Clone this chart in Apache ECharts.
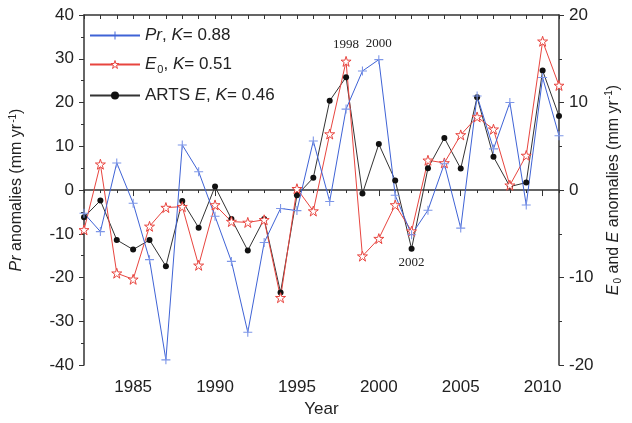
<!DOCTYPE html>
<html>
<head>
<meta charset="utf-8">
<script src="https://cdn.jsdelivr.net/npm/echarts@6/dist/echarts.min.js"></script>
<style>
  html, body { margin: 0; padding: 0; background: #fff; }
  #chart { width: 632px; height: 423px; }
</style>
</head>
<body>
<div id="chart"></div>
<script>
// years on the x axis
const years = [1982, 1983, 1984, 1985, 1986, 1987, 1988, 1989, 1990, 1991,
  1992, 1993, 1994, 1995, 1996, 1997, 1998, 1999, 2000, 2001,
  2002, 2003, 2004, 2005, 2006, 2007, 2008, 2009, 2010, 2011];
// Pr anomalies, left axis (mm/yr)
const prVals = [-5.3, -9.5, 6.2, -3, -15.9, -38.8, 10.3, 4.2, -6, -16.3,
  -32.5, -12, -4.2, -4.7, 11.2, -2.6, 18.5, 27.2, 29.8, -1.2,
  -10.2, -4.6, 6, -8.7, 21.5, 9.4, 20, -3.4, 25.7, 12.4];
// E0 anomalies, right axis
const e0Vals = [-4.55, 2.95, -9.5, -10.2, -4.15, -2, -1.9, -8.6, -1.7, -3.6,
  -3.7, -3.4, -12.3, 0.15, -2.4, 6.4, 14.7, -7.55, -5.55, -1.7,
  -4.7, 3.4, 3.1, 6.3, 8.35, 6.95, 0.55, 3.95, 17, 11.95];
// ARTS E anomalies, right axis
const artsVals = [-3.1, -1.2, -5.7, -6.8, -5.7, -8.7, -1.25, -4.3, 0.4, -3.3,
  -6.9, -3.3, -11.7, -0.6, 1.4, 10.2, 12.9, -0.4, 5.25, 1.1,
  -6.7, 2.5, 5.95, 2.45, 10.6, 3.8, 0.4, 0.85, 13.65, 8.45];
const kValues = [0.88, 0.51, 0.46];
const labelYears = [1985, 1990, 1995, 2000, 2005, 2010];
const leftTicks = [-40, -30, -20, -10, 0, 10, 20, 30, 40];
const rightTicks = [-20, -10, 0, 10, 20];
// year labels written on the plot
const noteE0 = [1998];
const notePr = [2000];
const noteArts = [2002];

const FONT = 'Liberation Sans';
const plusPath = 'path://M0,4.4H10V5.6H0Z M4.4,0H5.6V10H4.4Z';
const starPath = 'path://M50,2 L61,36 L97,36 L68,57 L79,92 L50,70 L21,92 L32,57 L3,36 L39,36 Z';
const RED = '#e8453f', BLUE = '#3f63d6', DARK = '#333';

function pts(vals, notes, pos) {
  return years.map((y, i) => {
    if (notes.indexOf(y) >= 0) {
      return {
        value: [y, vals[i]],
        label: {
          show: true, position: pos, distance: pos === 'top' ? 5 : 4,
          formatter: String(y), fontFamily: 'Liberation Serif', fontSize: 13, color: '#222'
        }
      };
    }
    return [y, vals[i]];
  });
}

const rich = {
  t: { fontFamily: FONT, fontSize: 17, color: '#222' },
  i: { fontFamily: FONT, fontSize: 17, fontStyle: 'italic', color: '#222' },
  s: { fontFamily: FONT, fontSize: 11, color: '#222', padding: [10, 0, 0, 1] }
};
const axisRich = {
  t: { fontFamily: FONT, fontSize: 16, color: '#222' },
  i: { fontFamily: FONT, fontSize: 16, fontStyle: 'italic', color: '#222' },
  s: { fontFamily: FONT, fontSize: 10, color: '#222', padding: [9, 0, 0, 1] },
  p: { fontFamily: FONT, fontSize: 10, color: '#222', padding: [0, 0, 8, 1] }
};

const chart = echarts.init(document.getElementById('chart'));
chart.setOption({
  animation: false,
  backgroundColor: '#fff',
  grid: { left: 80, right: 73, top: 15, bottom: 55 },
  legend: {
    orient: 'vertical',
    left: 84,
    top: 22,
    itemWidth: 50,
    itemHeight: 10,
    itemGap: 12,
    data: [
      { name: 'Pr', itemStyle: { color: BLUE } },
      { name: 'E0', itemStyle: { color: '#fff', borderColor: RED, borderWidth: 1 } },
      { name: 'ARTS E', itemStyle: { color: '#111' } }
    ],
    formatter: function (name) {
      if (name === 'Pr') return '{i|Pr}{t|, }{i|K}{t|= ' + kValues[0] + '}';
      if (name === 'E0') return '{i|E}{s|0}{t|, }{i|K}{t|= ' + kValues[1] + '}';
      return '{t|ARTS }{i|E}{t|, }{i|K}{t|= ' + kValues[2] + '}';
    },
    textStyle: { rich: rich, fontFamily: FONT, fontSize: 17 }
  },
  xAxis: [
    {
      type: 'value', min: 1982, max: 2011, position: 'bottom',
      name: 'Year', nameLocation: 'middle', nameGap: 33,
      nameTextStyle: { fontFamily: FONT, fontSize: 17, color: '#222' },
      axisLine: { show: true, lineStyle: { color: DARK, width: 1.5 } },
      axisTick: { show: true, customValues: labelYears, length: 6, lineStyle: { color: DARK } },
      axisLabel: {
        customValues: labelYears, margin: 14, fontFamily: FONT, fontSize: 17, color: '#222',
        formatter: function (v) { return String(v); }
      },
      splitLine: { show: false }
    },
    {
      type: 'value', min: 1982, max: 2011, interval: 1, position: 'bottom',
      axisLine: { show: false },
      axisTick: { show: true, length: 3, lineStyle: { color: DARK } },
      axisLabel: { show: false },
      splitLine: { show: false }
    },
    {
      type: 'value', min: 1982, max: 2011, interval: 1, position: 'top',
      axisLine: { show: true, lineStyle: { color: DARK, width: 1.5 } },
      axisTick: { show: true, inside: true, length: 4, lineStyle: { color: DARK } },
      axisLabel: { show: false },
      splitLine: { show: false }
    }
  ],
  yAxis: [
    {
      type: 'value', min: leftTicks[0], max: leftTicks[leftTicks.length - 1], interval: 10,
      position: 'left',
      name: '{i|Pr}{t| anomalies (mm yr}{p|-1}{t|)}',
      nameLocation: 'middle', nameGap: 58, nameRotate: 90,
      nameTextStyle: { rich: axisRich },
      axisLine: { show: true, lineStyle: { color: DARK, width: 1.5 } },
      axisTick: { show: true, length: 5, lineStyle: { color: DARK } },
      minorTick: { show: true, splitNumber: 2, length: 3, lineStyle: { color: DARK } },
      axisLabel: { margin: 10, fontFamily: FONT, fontSize: 17, color: '#222' },
      splitLine: { show: false }
    },
    {
      type: 'value', min: rightTicks[0], max: rightTicks[rightTicks.length - 1], interval: 10,
      position: 'right',
      name: '{i|E}{s|0}{t| and }{i|E}{t| anomalies (mm yr}{p|-1}{t|)}',
      nameLocation: 'middle', nameGap: 44, nameRotate: 90,
      nameTextStyle: { rich: axisRich },
      axisLine: { show: true, lineStyle: { color: DARK, width: 1.5 } },
      axisTick: { show: true, length: 5, lineStyle: { color: DARK } },
      minorTick: { show: true, splitNumber: 2, length: 3, lineStyle: { color: DARK } },
      axisLabel: { margin: 10, fontFamily: FONT, fontSize: 17, color: '#222' },
      splitLine: { show: false }
    }
  ],
  series: [
    {
      name: 'ARTS E', type: 'line', xAxisIndex: 0, yAxisIndex: 1,
      data: pts(artsVals, noteArts, 'bottom'),
      symbol: 'circle', symbolSize: 6,
      lineStyle: { color: DARK, width: 1 },
      itemStyle: { color: '#111' }
    },
    {
      name: 'E0', type: 'line', xAxisIndex: 0, yAxisIndex: 1,
      data: pts(e0Vals, noteE0, 'top'),
      symbol: starPath, symbolSize: 10,
      lineStyle: { color: RED, width: 1 },
      itemStyle: { color: '#fff', borderColor: RED, borderWidth: 1 }
    },
    {
      name: 'Pr', type: 'line', xAxisIndex: 0, yAxisIndex: 0,
      data: pts(prVals, notePr, 'top'),
      symbol: plusPath, symbolSize: 9,
      lineStyle: { color: BLUE, width: 1 },
      itemStyle: { color: '#7d96e8' }
    }
  ]
});
</script>
</body>
</html>
